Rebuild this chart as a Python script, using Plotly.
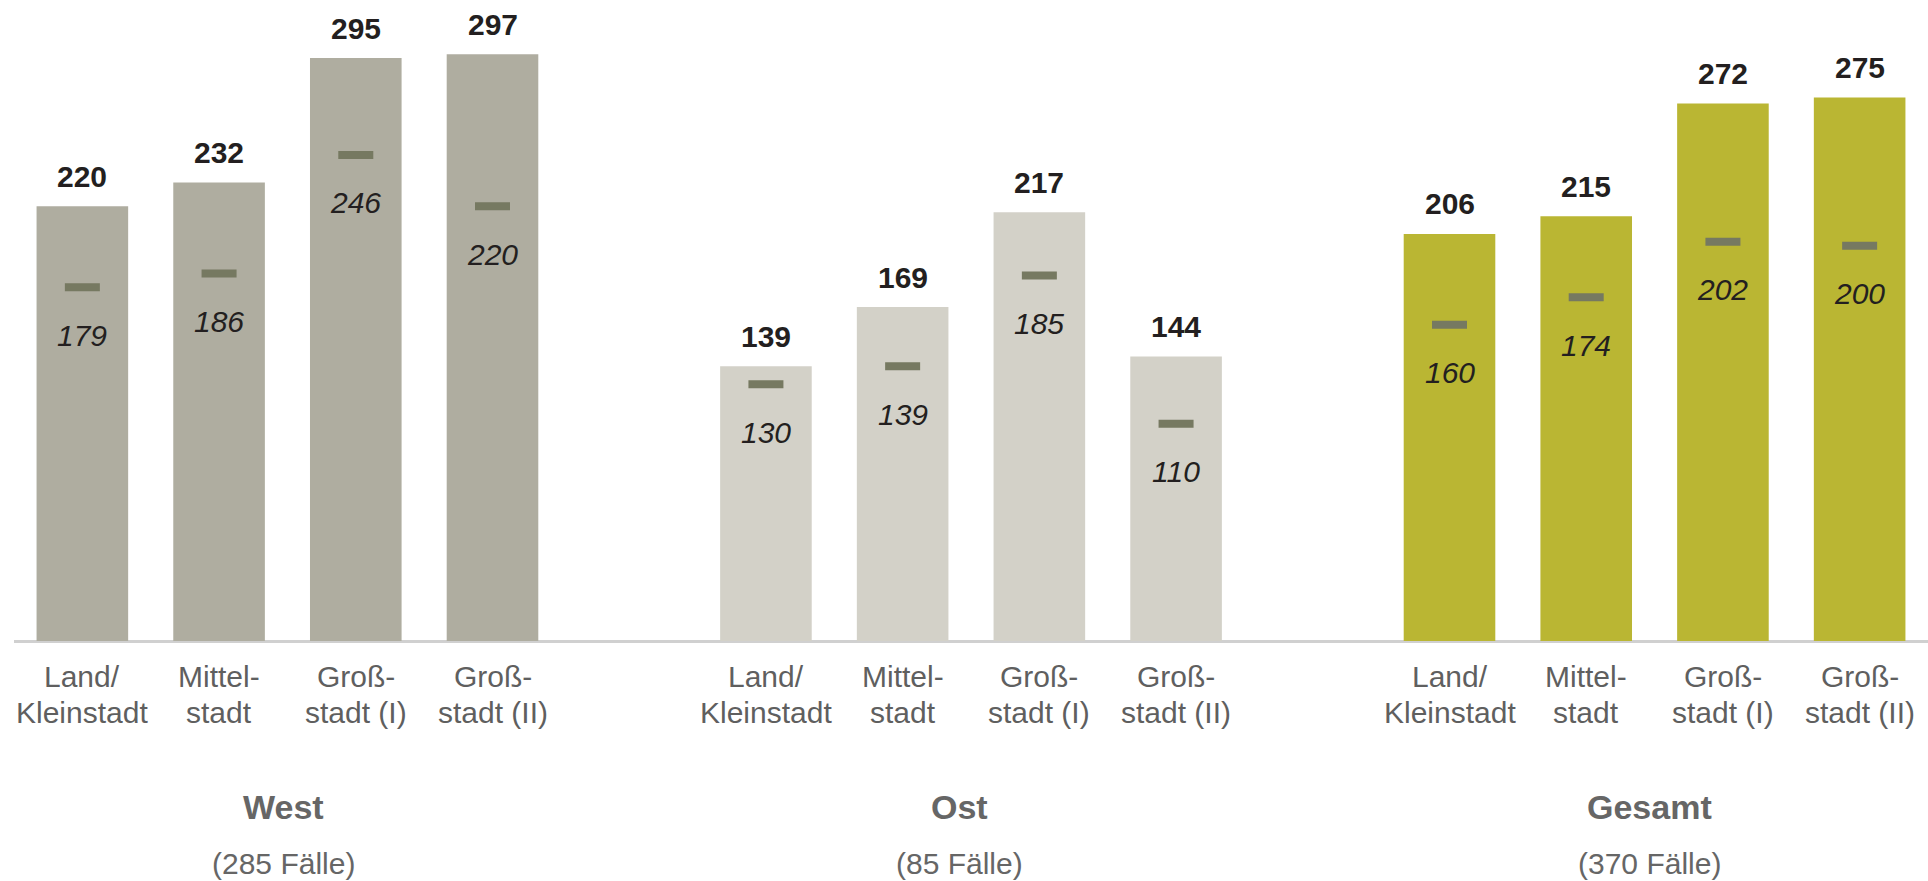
import plotly.graph_objects as go

# ---- data ----
regions = ["West", "Ost", "Gesamt"]
cases = [285, 85, 370]
cat_line1 = ["Land/", "Mittel-", "Groß-", "Groß-"]
cat_line2 = ["Kleinstadt", "stadt", "stadt (I)", "stadt (II)"]
west_mean = [220, 232, 295, 297]
west_median = [179, 186, 246, 220]
ost_mean = [139, 169, 217, 144]
ost_median = [130, 139, 185, 110]
gesamt_mean = [206, 215, 272, 275]
gesamt_median = [160, 174, 202, 200]

means = [west_mean, ost_mean, gesamt_mean]
medians = [west_median, ost_median, gesamt_median]
bar_colors = ["#AFADA0", "#D3D1C8", "#BAB633"]
title_xshift = [-4, -12, -5]
dash_color = "#767961"
FONT = "Liberation Sans, Arial, sans-serif"

fig = go.Figure()
annotations = []
for g, region in enumerate(regions):
    xs = [g * 5 + i for i in range(len(cat_line1))]
    fig.add_trace(go.Bar(
        x=xs, y=means[g], width=0.67, marker=dict(color=bar_colors[g], line=dict(width=0)),
        name=region, showlegend=False, hoverinfo="skip"))
    fig.add_trace(go.Scatter(
        x=xs, y=medians[g], mode="markers", showlegend=False, hoverinfo="skip",
        marker=dict(symbol="line-ew", size=25, color=dash_color,
                    line=dict(color=dash_color, width=8))))
    for i, x in enumerate(xs):
        annotations.append(dict(x=x, y=means[g][i], xref="x", yref="y", text=f"<b>{means[g][i]}</b>",
                                showarrow=False, yshift=30, yanchor="middle",
                                font=dict(family=FONT, size=30, color="#231F20")))
        annotations.append(dict(x=x, y=medians[g][i], xref="x", yref="y", text=f"<i>{medians[g][i]}</i>",
                                showarrow=False, yshift=-48, yanchor="middle",
                                font=dict(family=FONT, size=30, color="#231F20")))
        annotations.append(dict(x=x, y=0, xref="x", yref="y", text=cat_line1[i],
                                showarrow=False, yshift=-35, yanchor="middle",
                                font=dict(family=FONT, size=30, color="#5F5F5F")))
        annotations.append(dict(x=x, y=0, xref="x", yref="y", text=cat_line2[i],
                                showarrow=False, yshift=-71, yanchor="middle",
                                font=dict(family=FONT, size=30, color="#5F5F5F")))
    xc = (xs[0] + xs[-1]) / 2
    annotations.append(dict(x=xc, y=0, xref="x", yref="y", text=f"<b>{region}</b>",
                            showarrow=False, yshift=-166, xshift=title_xshift[g], yanchor="middle",
                            font=dict(family=FONT, size=34, color="#666666")))
    annotations.append(dict(x=xc, y=0, xref="x", yref="y", text=f"({cases[g]} Fälle)",
                            showarrow=False, yshift=-222, xshift=title_xshift[g], yanchor="middle",
                            font=dict(family=FONT, size=30, color="#666666")))

fig.update_layout(
    width=1928, height=881,
    margin=dict(l=14, r=0, t=0, b=240),
    paper_bgcolor="white", plot_bgcolor="white",
    barmode="overlay",
    annotations=annotations,
    xaxis=dict(range=[-0.5, 13.5], showticklabels=False, showgrid=False, zeroline=False,
               showline=False, ticks=""),
    yaxis=dict(range=[0, 324.4], showticklabels=False, showgrid=False, zeroline=True,
               zerolinecolor="#D0D0D0", zerolinewidth=2.5, showline=False, ticks=""),
)

fig.write_html("out.html", config={"displayModeBar": False},
               post_script="document.body.style.margin='0px';document.body.style.overflow='hidden';")
